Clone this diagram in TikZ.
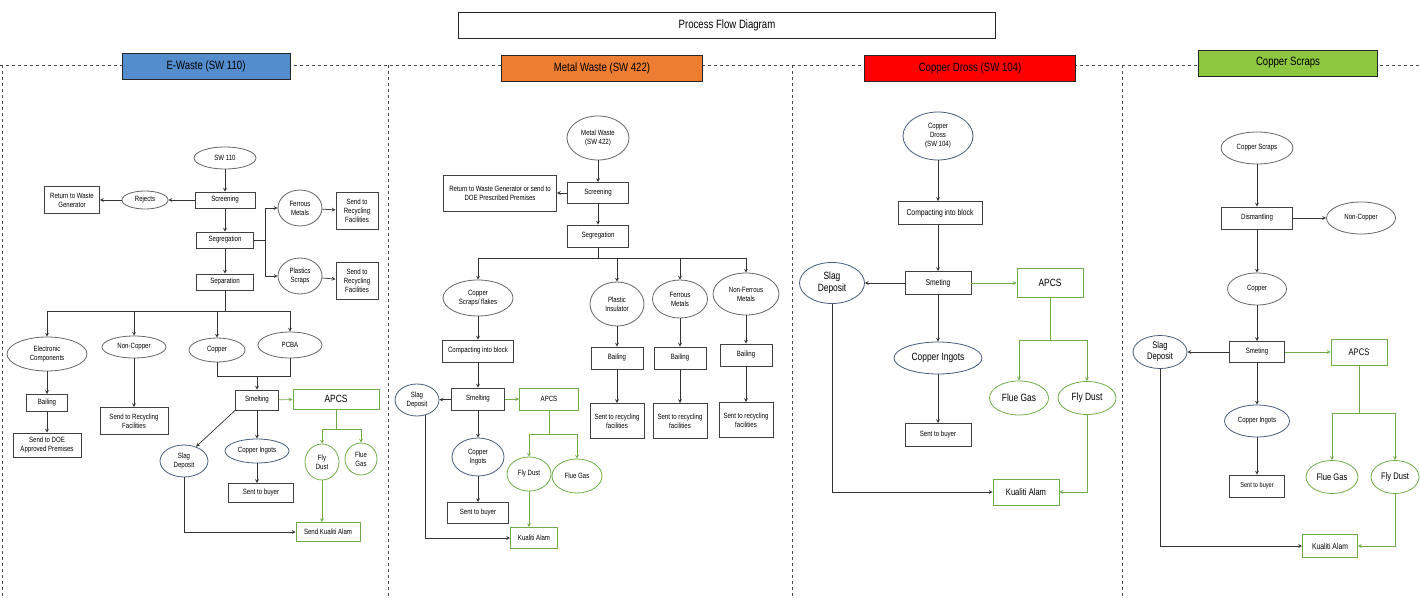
\documentclass[tikz,border=0pt]{standalone}
\usepackage{fontspec}
\setmainfont{Liberation Sans}[FakeStretch=0.8]
\usepackage{tikz}
\usetikzlibrary{shapes,arrows,positioning,calc}
\definecolor{ewblue}{RGB}{83,141,205}
\definecolor{mworange}{RGB}{237,125,49}
\definecolor{cdred}{RGB}{255,0,0}
\definecolor{csgreen}{RGB}{141,198,63}
\definecolor{leaf}{RGB}{112,173,71}
\definecolor{slate}{RGB}{72,92,122}

\begin{document}
\begin{tikzpicture}[
			x=1pt, y=-1pt,
			proc/.style={rectangle, draw=black!75, line width=0.9pt, fill=white, align=center, inner sep=1pt, font=\fontsize{7.6}{9}\selectfont},
			item/.style={ellipse, draw=black!60, line width=0.8pt, fill=white, align=center, inner sep=0pt, font=\fontsize{7.6}{9}\selectfont},
			itemb/.style={item, draw=slate},
			gproc/.style={proc, draw=leaf},
			gitem/.style={item, draw=leaf},
			header/.style={rectangle, draw=black!85, line width=0.9pt, minimum height=26pt, font=\fontsize{12}{13}\selectfont},
			arrow/.style={-stealth, line width=0.7pt, black!80},
			garrow/.style={-stealth, line width=0.7pt, leaf},
			line/.style={line width=0.7pt, black!80},
			gline/.style={line width=0.7pt, leaf},
			frame/.style={dashed, line width=0.8pt, black!70},
			big/.style={font=\fontsize{10.5}{12}\selectfont}
			]
			\useasboundingbox (0,0) rectangle (1420,599);
			
			% Title and panel frames
			\node[header, minimum width=537pt] (title) at (727,25) {Process Flow Diagram};
			\draw[frame] (0,65) -- (1420,65);
			\draw[frame] (2,65) -- (2,599);
			\draw[frame] (388,65) -- (388,599);
			\draw[frame] (792,65) -- (792,599);
			\draw[frame] (1122,65) -- (1122,599);
			
			\node[header, fill=ewblue, minimum width=168pt] (ewaste) at (206,66) {E-Waste (SW 110)};
			\node[header, fill=mworange, minimum width=201pt] (metal) at (602,68) {Metal Waste (SW 422)};
			\node[header, fill=cdred, minimum width=211pt] (dross) at (970,68) {Copper Dross (SW 104)};
			\node[header, fill=csgreen, minimum width=179pt] (scraps) at (1288,63) {Copper Scraps};
			
			% E-Waste
			\node[item, minimum width=62pt, minimum height=22pt] (sw110) at (225,158) {SW 110};
			\node[proc, minimum width=60pt, minimum height=16pt] (scr1) at (225,200) {Screening};
			\node[item, minimum width=46pt, minimum height=18pt] (rej1) at (145,200) {Rejects};
			\node[proc, minimum width=55pt, minimum height=27pt] (ret1) at (72,200) {Return to Waste\\Generator};
			\node[proc, minimum width=57pt, minimum height=16pt] (seg1) at (225,240) {Segregation};
			\node[proc, minimum width=57pt, minimum height=16pt] (sep1) at (225,282) {Separation};
			\node[item, minimum width=44pt, minimum height=36pt] (fer1) at (300,208) {Ferrous\\Metals};
			\node[item, minimum width=44pt, minimum height=36pt] (pla1) at (300,276) {Plastics\\Scraps};
			\node[proc, minimum width=42pt, minimum height=37pt] (rec1a) at (357,211) {Send to\\Recycling\\Facilities};
			\node[proc, minimum width=42pt, minimum height=37pt] (rec1b) at (357,281) {Send to\\Recycling\\Facilities};
			\coordinate (fork1) at (265,240);
			\coordinate (bus1) at (225,311);
			
			\node[item, minimum width=80pt, minimum height=34pt] (elec1) at (47,354) {Electronic\\Components};
			\node[item, minimum width=64pt, minimum height=22pt] (noncu1) at (134,347) {Non-Copper};
			\node[item, minimum width=56pt, minimum height=24pt] (cu1) at (217,350) {Copper};
			\node[item, minimum width=64pt, minimum height=26pt] (pcba1) at (290,345) {PCBA};
			\node[proc, minimum width=41pt, minimum height=17pt] (bail1) at (47,403) {Bailing};
			\node[proc, minimum width=68pt, minimum height=24pt] (doe1) at (47,445) {Send to DOE\\Approved Premises};
			\node[proc, minimum width=68pt, minimum height=27pt] (rec1c) at (134,421) {Send to Recycling\\Facilities};
			\coordinate (join1) at (257,376);
			
			\node[proc, minimum width=43pt, minimum height=20pt] (smelt1) at (257,400) {Smelting};
			\node[gproc, minimum width=86pt, minimum height=20pt, big] (apcs1) at (336,399) {APCS};
			\node[itemb, minimum width=48pt, minimum height=32pt] (slag1) at (184,461) {Slag\\Deposit};
			\node[itemb, minimum width=64pt, minimum height=24pt] (ingot1) at (257,451) {Copper Ingots};
			\node[proc, minimum width=65pt, minimum height=19pt] (buyer1) at (261,493) {Sent to buyer};
			\coordinate (gbus1) at (336,429);
			\node[gitem, minimum width=34pt, minimum height=36pt] (fly1) at (322,462) {Fly\\Dust};
			\node[gitem, minimum width=32pt, minimum height=32pt] (flue1) at (361,459) {Flue\\Gas};
			\node[gproc, minimum width=64pt, minimum height=19pt] (kual1) at (328,532) {Send Kualiti Alam};
			
			\draw[arrow] (sw110) -- (scr1);
			\draw[arrow] (scr1) -- (rej1);
			\draw[arrow] (rej1) -- (ret1);
			\draw[arrow] (scr1) -- (seg1);
			\draw[arrow] (seg1) -- (sep1);
			\draw[line] (seg1) -- (fork1);
			\draw[arrow] (fork1) |- (fer1);
			\draw[arrow] (fork1) |- (pla1);
			\draw[arrow] (fer1) -- (rec1a);
			\draw[arrow] (pla1) -- (rec1b);
			\draw[line] (sep1) -- (bus1);
			\draw[arrow] (bus1) -| (elec1);
			\draw[arrow] (bus1) -| (noncu1);
			\draw[arrow] (bus1) -| (cu1);
			\draw[arrow] (bus1) -| (pcba1);
			\draw[arrow] (elec1) -- (bail1);
			\draw[arrow] (bail1) -- (doe1);
			\draw[arrow] (noncu1) -- (rec1c);
			\draw[line] (cu1) |- (join1);
			\draw[line] (pcba1) |- (join1);
			\draw[arrow] (join1) -- (smelt1);
			\draw[garrow] (smelt1) -- (apcs1);
			\draw[arrow] (smelt1.south west) -- (slag1.50);
			\draw[arrow] (smelt1) -- (ingot1);
			\draw[arrow] (ingot1.south) -- (ingot1.south |- buyer1.north);
			\draw[gline] (apcs1) -- (gbus1);
			\draw[garrow] (gbus1) -| (fly1);
			\draw[garrow] (gbus1) -| (flue1);
			\draw[garrow] (fly1.south) -- (fly1.south |- kual1.north);
			\draw[arrow] (slag1) |- (kual1);
			
			% Metal Waste
			\node[item, minimum width=62pt, minimum height=44pt] (mw2) at (598,138) {Metal Waste\\(SW 422)};
			\node[proc, minimum width=61pt, minimum height=21pt] (scr2) at (598,193) {Screening};
			\node[proc, minimum width=113pt, minimum height=36pt] (ret2) at (500,193) {Return to Waste Generator or send to\\DOE Prescribed Premises};
			\node[proc, minimum width=61pt, minimum height=22pt] (seg2) at (598,236) {Segregation};
			\coordinate (bus2) at (598,258);
			\node[item, minimum width=70pt, minimum height=36pt] (cu2) at (478,298) {Copper\\Scraps/ flakes};
			\node[item, minimum width=54pt, minimum height=44pt] (pla2) at (617,304) {Plastic\\Insulator};
			\node[item, minimum width=55pt, minimum height=38pt] (fer2) at (680,299) {Ferrous\\Metals};
			\node[item, minimum width=66pt, minimum height=42pt] (nfe2) at (746,294) {Non-Ferrous\\Metals};
			\node[proc, minimum width=71pt, minimum height=22pt] (comp2) at (478,351) {Compacting into block};
			\node[proc, minimum width=53pt, minimum height=22pt] (smelt2) at (478,399) {Smelting};
			\node[itemb, minimum width=44pt, minimum height=32pt] (slag2) at (417,400) {Slag\\Deposit};
			\node[gproc, minimum width=59pt, minimum height=22pt] (apcs2) at (549,399) {APCS};
			\node[itemb, minimum width=52pt, minimum height=38pt] (ingot2) at (478,457) {Copper\\Ingots};
			\node[proc, minimum width=61pt, minimum height=21pt] (buyer2) at (478,513) {Sent to buyer};
			\coordinate (gbus2) at (549,434);
			\node[gitem, minimum width=44pt, minimum height=34pt] (fly2) at (529,474) {Fly Dust};
			\node[gitem, minimum width=50pt, minimum height=34pt] (flue2) at (577,476) {Flue Gas};
			\node[gproc, minimum width=47pt, minimum height=21pt] (kual2) at (534,538) {Kualiti Alam};
			\node[proc, minimum width=52pt, minimum height=22pt] (bail2a) at (617,358) {Bailing};
			\node[proc, minimum width=52pt, minimum height=22pt] (bail2b) at (680,358) {Bailing};
			\node[proc, minimum width=52pt, minimum height=22pt] (bail2c) at (746,355) {Bailing};
			\node[proc, minimum width=54pt, minimum height=35pt] (rec2a) at (617,421) {Sent to recycling\\facilities};
			\node[proc, minimum width=54pt, minimum height=35pt] (rec2b) at (680,421) {Sent to recycling\\facilities};
			\node[proc, minimum width=54pt, minimum height=35pt] (rec2c) at (746,420) {Sent to recycling\\facilities};
			
			\draw[arrow] (mw2) -- (scr2);
			\draw[arrow] (scr2) -- (ret2);
			\draw[arrow] (scr2) -- (seg2);
			\draw[line] (seg2) -- (bus2);
			\draw[arrow] (bus2) -| (cu2);
			\draw[arrow] (bus2) -| (pla2);
			\draw[arrow] (bus2) -| (fer2);
			\draw[arrow] (bus2) -| (nfe2);
			\draw[arrow] (cu2) -- (comp2);
			\draw[arrow] (comp2) -- (smelt2);
			\draw[arrow] (smelt2) -- (slag2);
			\draw[garrow] (smelt2) -- (apcs2);
			\draw[arrow] (smelt2) -- (ingot2);
			\draw[arrow] (ingot2) -- (buyer2);
			\draw[gline] (apcs2) -- (gbus2);
			\draw[garrow] (gbus2) -| (fly2);
			\draw[garrow] (gbus2) -| (flue2);
			\draw[garrow] (fly2.south) -- (fly2.south |- kual2.north);
			\draw[arrow] (slag2.-60) |- (kual2);
			\draw[arrow] (pla2) -- (bail2a);
			\draw[arrow] (fer2) -- (bail2b);
			\draw[arrow] (nfe2) -- (bail2c);
			\draw[arrow] (bail2a) -- (rec2a);
			\draw[arrow] (bail2b) -- (rec2b);
			\draw[arrow] (bail2c) -- (rec2c);
			
			% Copper Dross
			\node[itemb, minimum width=70pt, minimum height=48pt] (cd3) at (938,136) {Copper\\Dross\\(SW 104)};
			\node[proc, minimum width=84pt, minimum height=23pt, font=\fontsize{8.5}{10}\selectfont] (comp3) at (940,213) {Compacting into block};
			\node[proc, minimum width=66pt, minimum height=23pt, font=\fontsize{8.5}{10}\selectfont] (smelt3) at (938,283) {Smeting};
			\node[itemb, minimum width=65pt, minimum height=41pt, big] (slag3) at (832,283) {Slag\\Deposit};
			\node[gproc, minimum width=66pt, minimum height=29pt, big] (apcs3) at (1050,283) {APCS};
			\node[itemb, minimum width=88pt, minimum height=32pt, big] (ingot3) at (938,358) {Copper Ingots};
			\node[proc, minimum width=66pt, minimum height=23pt] (buyer3) at (938,435) {Sent to buyer};
			\coordinate (gbus3) at (1050,340);
			\node[gitem, minimum width=59pt, minimum height=34pt, big] (flue3) at (1019,398) {Flue Gas};
			\node[gitem, minimum width=58pt, minimum height=33pt, big] (fly3) at (1087,398) {Fly Dust};
			\node[gproc, minimum width=66pt, minimum height=26pt, font=\fontsize{9.5}{11}\selectfont] (kual3) at (1026,492) {Kualiti Alam};
			
			\draw[arrow] (cd3) -- (cd3 |- comp3.north);
			\draw[arrow] (comp3.south -| cd3) -- (smelt3);
			\draw[arrow] (smelt3) -- (slag3);
			\draw[garrow] (smelt3) -- (apcs3);
			\draw[arrow] (smelt3) -- (ingot3);
			\draw[arrow] (ingot3) -- (buyer3);
			\draw[gline] (apcs3) -- (gbus3);
			\draw[garrow] (gbus3) -| (flue3);
			\draw[garrow] (gbus3) -| (fly3);
			\draw[arrow] (slag3) |- (kual3);
			\draw[garrow] (fly3) |- (kual3);
			
			% Copper Scraps
			\node[item, minimum width=72pt, minimum height=32pt] (cs4) at (1257,148) {Copper Scraps};
			\node[proc, minimum width=71pt, minimum height=22pt] (dis4) at (1257,218) {Dismantling};
			\node[item, minimum width=69pt, minimum height=32pt] (nc4) at (1361,218) {Non-Copper};
			\node[item, minimum width=59pt, minimum height=32pt] (cu4) at (1257,289) {Copper};
			\node[proc, minimum width=55pt, minimum height=21pt] (smelt4) at (1257,352) {Smeting};
			\node[itemb, minimum width=54pt, minimum height=33pt, font=\fontsize{9.5}{11}\selectfont] (slag4) at (1160,352) {Slag\\Deposit};
			\node[gproc, minimum width=56pt, minimum height=26pt, font=\fontsize{9.5}{11}\selectfont] (apcs4) at (1359,352) {APCS};
			\coordinate (gbus4) at (1359,413);
			\node[gitem, minimum width=52pt, minimum height=33pt, font=\fontsize{9.5}{11}\selectfont] (flue4) at (1332,477) {Flue Gas};
			\node[gitem, minimum width=48pt, minimum height=33pt, font=\fontsize{9.5}{11}\selectfont] (fly4) at (1395,477) {Fly Dust};
			\node[itemb, minimum width=65pt, minimum height=32pt] (ingot4) at (1257,421) {Copper Ingots};
			\node[proc, minimum width=55pt, minimum height=22pt, font=\fontsize{7}{8.5}\selectfont] (buyer4) at (1257,486) {Sent to buyer};
			\node[gproc, minimum width=55pt, minimum height=23pt, font=\fontsize{8.5}{10}\selectfont] (kual4) at (1330,546) {Kualiti Alam};
			
			\draw[arrow] (cs4) -- (dis4);
			\draw[arrow] (dis4) -- (nc4);
			\draw[arrow] (dis4) -- (cu4);
			\draw[arrow] (cu4) -- (smelt4);
			\draw[arrow] (smelt4) -- (slag4);
			\draw[garrow] (smelt4) -- (apcs4);
			\draw[arrow] (smelt4) -- (ingot4);
			\draw[arrow] (ingot4) -- (buyer4);
			\draw[gline] (apcs4) -- (gbus4);
			\draw[garrow] (gbus4) -| (flue4);
			\draw[garrow] (gbus4) -| (fly4);
			\draw[arrow] (slag4) |- (kual4);
			\draw[garrow] (fly4) |- (kual4);
			
		\end{tikzpicture}
\end{document}
